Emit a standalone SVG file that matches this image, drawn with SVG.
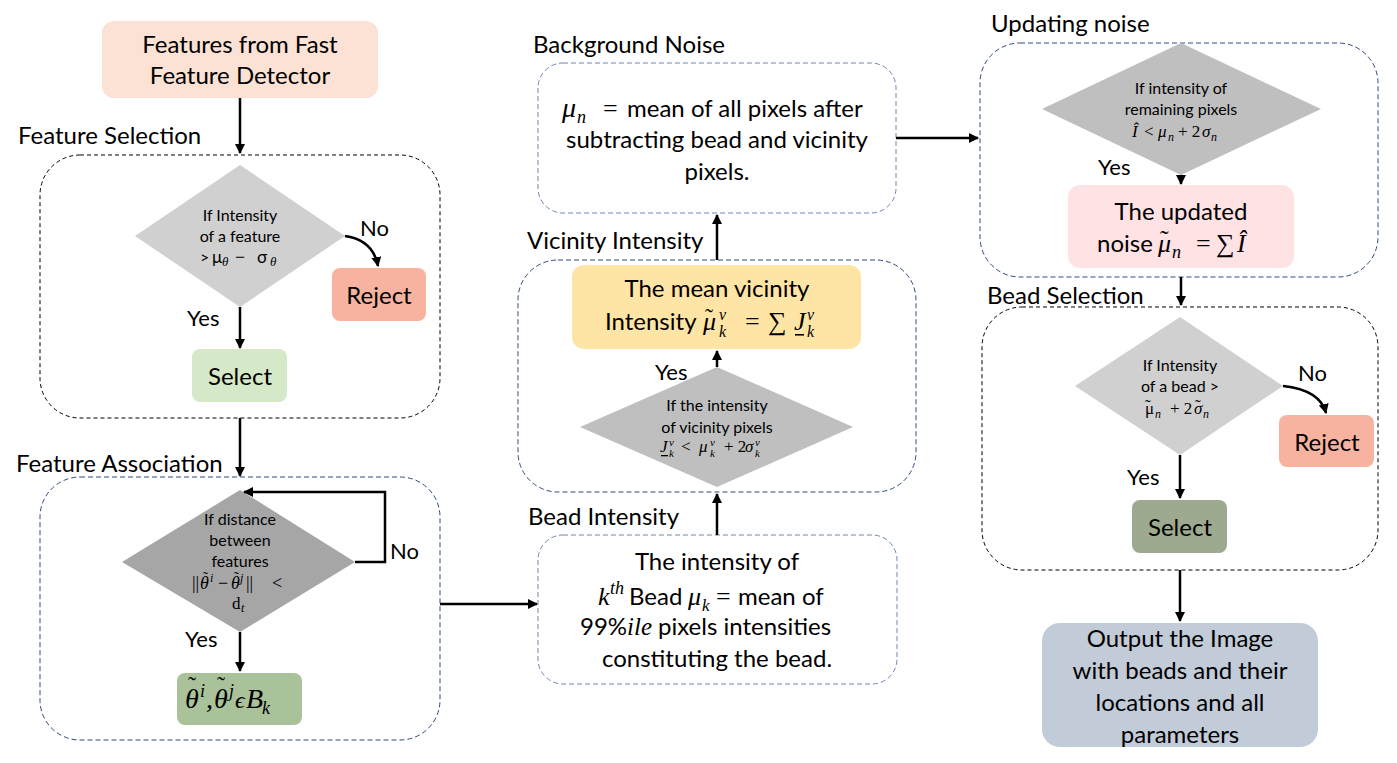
<svg xmlns="http://www.w3.org/2000/svg" width="1397" height="763" viewBox="0 0 1397 763">
<defs>
<marker id="ah" viewBox="0 0 10 10" refX="9" refY="5" markerWidth="4" markerHeight="4" orient="auto-start-reverse" markerUnits="strokeWidth">
<path d="M0,0 L10,5 L0,10 z" fill="#000"/>
</marker>
<style>
.t{font-family:Lato,"Open Sans","Liberation Sans",sans-serif;fill:#000}
.c{text-anchor:middle}
.lab{font-size:24px}
.big{font-size:24px}
.sm{font-size:16px}
.m{font-family:"Liberation Serif","DejaVu Serif",serif;font-style:italic;fill:#000}
.s{font-family:"Liberation Serif","DejaVu Serif",serif;font-style:normal}
.i{font-style:italic}
.cb{fill:none;stroke:#000;stroke-width:1;stroke-dasharray:4 3}
.cn{fill:none;stroke:#2E4A7D;stroke-width:1;stroke-dasharray:5 3}
.cl{fill:none;stroke:#6F86B5;stroke-width:1;stroke-dasharray:5 3}
.e{fill:none;stroke:#000;stroke-width:2.5;marker-end:url(#ah)}
.ul{fill:#000}
</style>
</defs>
<rect width="1397" height="763" fill="#fff"/>

<!-- containers -->
<g id="feature-selection">
<text class="t lab" x="18" y="144">Feature Selection</text>
<rect class="cb" x="40" y="155" width="400" height="263" rx="40"/>
</g>
<g id="feature-association">
<text class="t lab" x="16" y="472">Feature Association</text>
<rect class="cn" x="40" y="477" width="400" height="263" rx="40"/>
</g>
<g id="bead-intensity">
<text class="t lab" x="528" y="525">Bead Intensity</text>
<rect class="cl" x="538" y="535" width="359" height="149" rx="25"/>
<text class="t big c" x="717" y="570">The intensity of</text>
<text class="m" font-size="26"><tspan x="598" y="605">k</tspan><tspan x="610" y="594" font-size="18">th</tspan><tspan class="t" x="629" y="605" font-size="24" font-style="normal">Bead</tspan><tspan x="688" y="605">μ</tspan><tspan x="702" y="611" font-size="17">k</tspan><tspan class="s" x="716" y="605">=</tspan><tspan class="t" x="738" y="605" font-size="24" font-style="normal">mean of</tspan></text>
<text class="t big"><tspan x="580" y="635">99%</tspan><tspan class="m" x="627" y="635" font-size="25">ile</tspan><tspan x="658" y="635">pixels intensities</tspan></text>
<text class="t big c" x="717" y="667">constituting the bead.</text>
</g>
<g id="vicinity-intensity">
<text class="t lab" x="527" y="249">Vicinity Intensity</text>
<rect class="cn" x="518" y="260" width="398" height="232" rx="40"/>
</g>
<g id="background-noise">
<text class="t lab" x="533" y="53">Background Noise</text>
<rect class="cl" x="538" y="63" width="358" height="150" rx="25"/>
<text class="m" font-size="28"><tspan x="562" y="117">μ</tspan><tspan x="577" y="123" font-size="18">n</tspan><tspan class="s" x="603" y="117" font-size="26">=</tspan><tspan class="t" x="627" y="117" font-size="24" font-style="normal">mean of all pixels after</tspan></text>
<text class="t big c" x="717" y="148">subtracting bead and vicinity</text>
<text class="t big c" x="717" y="180">pixels.</text>
</g>
<g id="updating-noise">
<text class="t lab" x="991" y="32">Updating noise</text>
<rect class="cn" x="980" y="43" width="398" height="234" rx="40"/>
</g>
<g id="bead-selection">
<text class="t lab" x="987" y="304">Bead Selection</text>
<rect class="cb" x="982" y="307" width="396" height="263" rx="40"/>
</g>

<!-- nodes -->
<g id="fast-detector">
<rect x="102" y="21" width="276" height="77" rx="12" fill="#FBE2D5"/>
<text class="t big c" x="240" y="53">Features from Fast</text>
<text class="t big c" x="240" y="84">Feature Detector</text>
</g>
<g id="fs-decision">
<polygon points="240,165 345,236 240,307 135,236" fill="#D0D0D0"/>
<text class="t sm c" x="240" y="221">If Intensity</text>
<text class="t sm c" x="240" y="242">of a feature</text>
<text class="t" font-size="16"><tspan x="200" y="263">&gt;</tspan><tspan x="212" y="263" font-size="17">μ</tspan><tspan class="m" x="222" y="266" font-size="13">θ</tspan><tspan class="s" x="235" y="263" font-size="18">−</tspan><tspan x="257" y="263" font-size="17">σ</tspan><tspan class="m" x="270" y="266" font-size="13">θ</tspan></text>
</g>
<g id="fs-reject">
<rect x="332" y="268" width="94" height="53" rx="8" fill="#F8B3A0"/>
<text class="t big c" x="379" y="304">Reject</text>
</g>
<g id="fs-select">
<rect x="192" y="349" width="95" height="53" rx="8" fill="#D5E8C8"/>
<text class="t big c" x="240" y="385">Select</text>
</g>
<g id="fa-decision">
<polygon points="240,490 355,562 240,632 122,562" fill="#A6A6A6"/>
<text class="t sm c" x="240" y="525">If distance</text>
<text class="t sm c" x="240" y="546">between</text>
<text class="t sm c" x="240" y="567">features</text>
<text class="m" font-size="18"><tspan class="s" x="192" y="589">||</tspan><tspan x="200" y="589">θ</tspan><tspan class="s" x="203" y="582" font-size="15">˜</tspan><tspan x="210" y="582" font-size="12">i</tspan><tspan class="s" x="218" y="589">−</tspan><tspan x="231" y="589">θ</tspan><tspan class="s" x="234" y="582" font-size="15">˜</tspan><tspan x="240" y="582" font-size="12">j</tspan><tspan class="s" x="246" y="589">||</tspan><tspan class="s" x="272" y="589">&lt;</tspan></text>
<text class="s" font-size="17"><tspan x="232" y="609">d</tspan><tspan class="i" x="241" y="612" font-size="12">t</tspan></text>
</g>
<g id="fa-result">
<rect x="177" y="673" width="125" height="52" rx="8" fill="#A9C29A"/>
<text class="m" font-size="28"><tspan x="185" y="708">θ</tspan><tspan class="s" x="188" y="693" font-size="24">˜</tspan><tspan x="200" y="697" font-size="18">i</tspan><tspan x="206" y="708">,</tspan><tspan x="214" y="708">θ</tspan><tspan class="s" x="217" y="693" font-size="24">˜</tspan><tspan x="229" y="697" font-size="18">j</tspan><tspan x="235" y="708" font-size="24">ϵ</tspan><tspan x="246" y="708">B</tspan><tspan x="262" y="714" font-size="18">k</tspan></text>
</g>
<g id="vi-mean">
<rect x="572" y="265" width="289" height="84" rx="12" fill="#FFE5A5"/>
<text class="t big c" x="717" y="297">The mean vicinity</text>
<text class="t big"><tspan x="605" y="330">Intensity</tspan><tspan class="m" x="703" y="330" font-size="26">μ</tspan><tspan class="s" x="705" y="325" font-size="24">˜</tspan><tspan class="m" x="719" y="320" font-size="16">v</tspan><tspan class="m" x="719" y="337" font-size="16">k</tspan><tspan class="s" x="745" y="330" font-size="26">=</tspan><tspan class="s" x="768" y="330" font-size="26">∑</tspan><tspan class="m" x="794" y="330" font-size="26">J</tspan><tspan class="m" x="807" y="320" font-size="16">v</tspan><tspan class="m" x="807" y="337" font-size="16">k</tspan></text>
<rect class="ul" x="795" y="334" width="9" height="1.6"/>
</g>
<g id="vi-decision">
<polygon points="717,367 853,427 717,487 580,427" fill="#BFBFBF"/>
<text class="t sm c" x="717" y="411">If the intensity</text>
<text class="t sm c" x="717" y="433">of vicinity pixels</text>
<text class="m" font-size="17"><tspan x="660" y="452">J</tspan><tspan x="669" y="446" font-size="11">v</tspan><tspan x="669" y="457" font-size="11">k</tspan><tspan class="s" x="681" y="452">&lt;</tspan><tspan x="699" y="452">μ</tspan><tspan x="710" y="446" font-size="11">v</tspan><tspan x="710" y="457" font-size="11">k</tspan><tspan class="s" x="724" y="452">+ 2</tspan><tspan x="745" y="452">σ</tspan><tspan x="755" y="446" font-size="11">v</tspan><tspan x="755" y="457" font-size="11">k</tspan></text>
<rect class="ul" x="661" y="455" width="7" height="1.3"/>
</g>
<g id="un-decision">
<polygon points="1181,43 1321,109 1181,175 1042,109" fill="#BFBFBF"/>
<text class="t sm c" x="1181" y="94">If intensity of</text>
<text class="t sm c" x="1181" y="115">remaining pixels</text>
<text class="m" font-size="17"><tspan x="1132" y="137">Î</tspan><tspan class="s" x="1144" y="137">&lt;</tspan><tspan x="1158" y="137">μ</tspan><tspan x="1168" y="141" font-size="12">n</tspan><tspan class="s" x="1178" y="137">+ 2</tspan><tspan x="1202" y="137">σ</tspan><tspan x="1211" y="141" font-size="12">n</tspan></text>
</g>
<g id="un-result">
<rect x="1068" y="185" width="226" height="83" rx="12" fill="#FFE2E4"/>
<text class="t big c" x="1181" y="220">The updated</text>
<text class="t big"><tspan x="1097" y="252">noise</tspan><tspan class="m" x="1158" y="252" font-size="26">μ</tspan><tspan class="s" x="1160" y="248" font-size="26">˜</tspan><tspan class="m" x="1172" y="258" font-size="18">n</tspan><tspan class="s" x="1196" y="252" font-size="26">=</tspan><tspan class="s" x="1216" y="252" font-size="26">∑</tspan><tspan class="m" x="1237" y="252" font-size="26">Î</tspan></text>
</g>
<g id="bs-decision">
<polygon points="1180,317 1283,386 1180,455 1075,386" fill="#D0D0D0"/>
<text class="t sm c" x="1180" y="371">If Intensity</text>
<text class="t sm c" x="1180" y="392">of a bead &gt;</text>
<text class="s" font-size="17"><tspan x="1145" y="414">μ</tspan><tspan x="1145" y="411">˜</tspan><tspan class="i" x="1155" y="418" font-size="12">n</tspan><tspan x="1170" y="414">+ 2</tspan><tspan class="i" x="1194" y="414">σ</tspan><tspan x="1195" y="411">˜</tspan><tspan class="i" x="1203" y="418" font-size="12">n</tspan></text>
</g>
<g id="bs-reject">
<rect x="1279" y="415" width="95" height="52" rx="8" fill="#F8B3A0"/>
<text class="t big c" x="1327" y="451">Reject</text>
</g>
<g id="bs-select">
<rect x="1132" y="500" width="95" height="53" rx="8" fill="#9EAA8F"/>
<text class="t big c" x="1180" y="536">Select</text>
</g>
<g id="output">
<rect x="1042" y="623" width="276" height="124" rx="18" fill="#C2CBD8"/>
<text class="t big c" x="1180" y="647">Output the Image</text>
<text class="t big c" x="1180" y="679">with beads and their</text>
<text class="t big c" x="1180" y="711">locations and all</text>
<text class="t big c" x="1180" y="743">parameters</text>
</g>

<!-- connectors -->
<g id="connectors">
<path class="e" d="M240,98 V153"/>
<path class="e" d="M345,236 Q373,240 378,266"/>
<path class="e" d="M240,307 V348"/>
<path class="e" d="M240,418 V476"/>
<path class="e" d="M355,562 H385 V492 H244"/>
<path class="e" d="M240,632 V671"/>
<path class="e" d="M440,604 H537"/>
<path class="e" d="M717,535 V494"/>
<path class="e" d="M717,367 V351"/>
<path class="e" d="M717,260 V215"/>
<path class="e" d="M896,138 H978"/>
<path class="e" d="M1181,175 V184"/>
<path class="e" d="M1181,277 V305"/>
<path class="e" d="M1283,386 Q1320,390 1326,413"/>
<path class="e" d="M1180,455 V498"/>
<path class="e" d="M1180,570 V621"/>
</g>
<g id="edge-labels">
<text class="t" x="360" y="236" font-size="22">No</text>
<text class="t" x="187" y="326" font-size="22">Yes</text>
<text class="t" x="390" y="559" font-size="22">No</text>
<text class="t" x="185" y="647" font-size="22">Yes</text>
<text class="t" x="655" y="380" font-size="22">Yes</text>
<text class="t" x="1098" y="175" font-size="22">Yes</text>
<text class="t" x="1298" y="381" font-size="22">No</text>
<text class="t" x="1127" y="485" font-size="22">Yes</text>
</g>
</svg>
